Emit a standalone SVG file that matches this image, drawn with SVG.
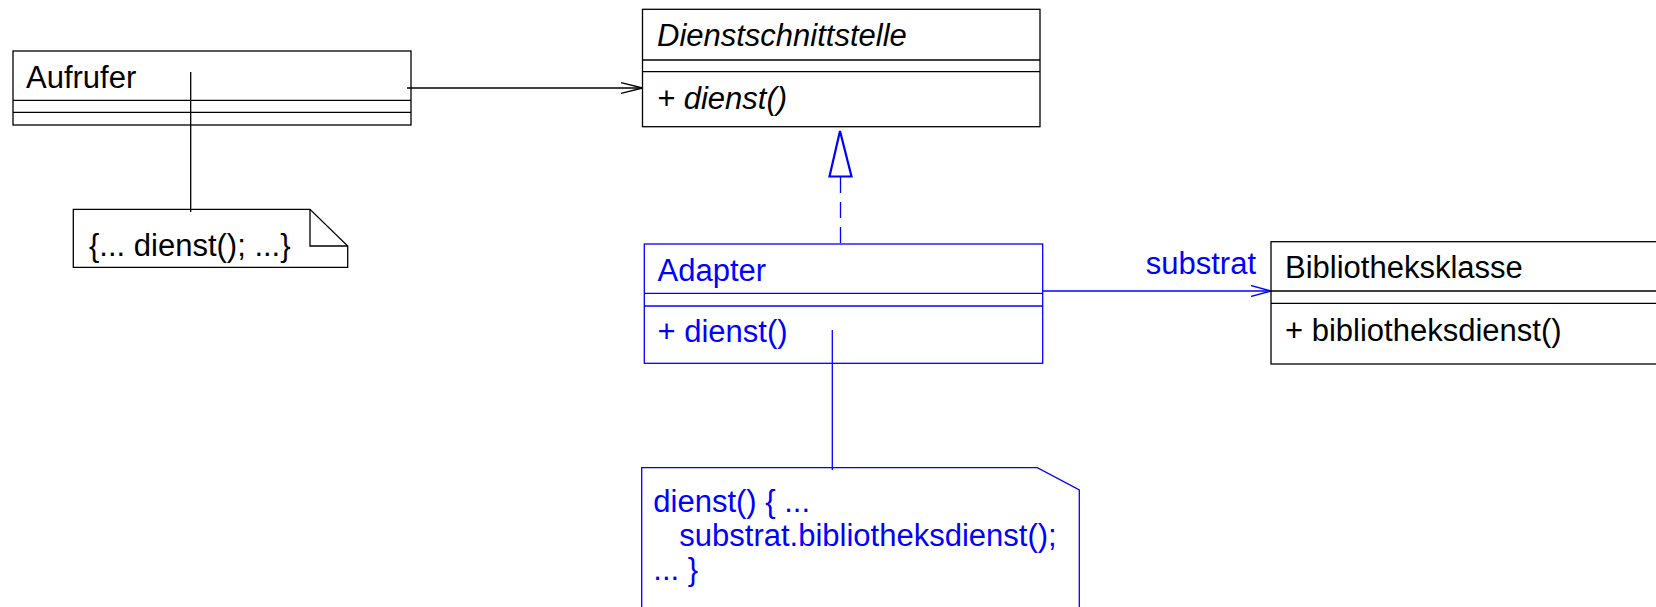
<svg xmlns="http://www.w3.org/2000/svg" width="1656" height="607" viewBox="0 0 1656 607">
<style>
text{font-family:"Liberation Sans",Arial,sans-serif;font-size:31px}
.k{fill:none;stroke:#000;stroke-width:1.3}
.b{fill:none;stroke:#0000ff;stroke-width:1.3}
.bt{fill:#0000ff}
.kt{fill:#000}
.it{font-style:italic}
</style>
<defs>
<marker id="openK" viewBox="0 0 22 12" refX="22" refY="6" markerWidth="22" markerHeight="12" markerUnits="userSpaceOnUse" orient="auto"><path d="M0,0.5 L22,6 L0,11.5" fill="none" stroke="#000" stroke-width="1.3"/></marker>
<marker id="openB" viewBox="0 0 20 12" refX="20" refY="6" markerWidth="20" markerHeight="12" markerUnits="userSpaceOnUse" orient="auto"><path d="M0,0.5 L20,6 L0,11.5" fill="none" stroke="#0000ff" stroke-width="1.3"/></marker>
</defs>
<g id="connectors">
<line class="k" x1="407" y1="88" x2="642.5" y2="88" marker-end="url(#openK)"/>
<line class="k" x1="190.7" y1="72" x2="190.7" y2="212"/>
<line class="b" x1="840.5" y1="177" x2="840.5" y2="244" stroke-dasharray="16 9"/>
<path d="M840,131 L829.5,176.5 L851.5,176.5 Z" fill="#fff" stroke="#0000ff" stroke-width="2.2"/>
<line class="b" x1="1043" y1="291" x2="1271" y2="291" marker-end="url(#openB)"/>
<line class="b" x1="832.3" y1="330" x2="832.3" y2="470"/>
<text class="bt" x="1256" y="274" text-anchor="end">substrat</text>
</g>
<g id="aufrufer">
<rect class="k" x="13" y="51" width="398" height="74"/>
<line class="k" x1="13" y1="100.3" x2="411" y2="100.3"/>
<line class="k" x1="13" y1="112.3" x2="411" y2="112.3"/>
<text class="kt" x="26" y="87.5">Aufrufer</text>
</g>
<g id="note1">
<path class="k" d="M73.3,209.3 L310,209.3 L347.7,246 L347.7,267.3 L73.3,267.3 Z" fill="#fff"/>
<path class="k" d="M310,209.3 L310,246 L347.7,246"/>
<text class="kt" x="89" y="255.5">{... dienst(); ...}</text>
</g>
<g id="dienstschnittstelle">
<rect class="k" x="642.5" y="9.3" width="397.5" height="117.4"/>
<line class="k" x1="642.5" y1="60" x2="1040" y2="60"/>
<line class="k" x1="642.5" y1="71.7" x2="1040" y2="71.7"/>
<text class="kt it" x="657" y="46">Dienstschnittstelle</text>
<text class="kt it" x="657" y="109">+ dienst()</text>
</g>
<g id="adapter">
<rect class="b" x="644.3" y="244" width="398.4" height="119.3"/>
<line class="b" x1="644.3" y1="293.3" x2="1042.7" y2="293.3"/>
<line class="b" x1="644.3" y1="306" x2="1042.7" y2="306"/>
<text class="bt" x="657.5" y="280.5">Adapter</text>
<text class="bt" x="657.5" y="341.5">+ dienst()</text>
</g>
<g id="bibliotheksklasse">
<rect class="k" x="1271" y="241.7" width="420" height="122.3"/>
<line class="k" x1="1271" y1="291" x2="1656" y2="291"/>
<line class="k" x1="1271" y1="303.3" x2="1656" y2="303.3"/>
<text class="kt" x="1285" y="277.5">Bibliotheksklasse</text>
<text class="kt" x="1285" y="340.5">+ bibliotheksdienst()</text>
</g>
<g id="note2">
<path class="b" d="M641.7,620 L641.7,467.7 L1037.3,467.7 L1079.3,490 L1079.3,620"/>
<text class="bt" x="653.3" y="512">dienst() { ...</text>
<text class="bt" x="679.3" y="546">substrat.bibliotheksdienst();</text>
<text class="bt" x="653.3" y="580">... }</text>
</g>
</svg>
